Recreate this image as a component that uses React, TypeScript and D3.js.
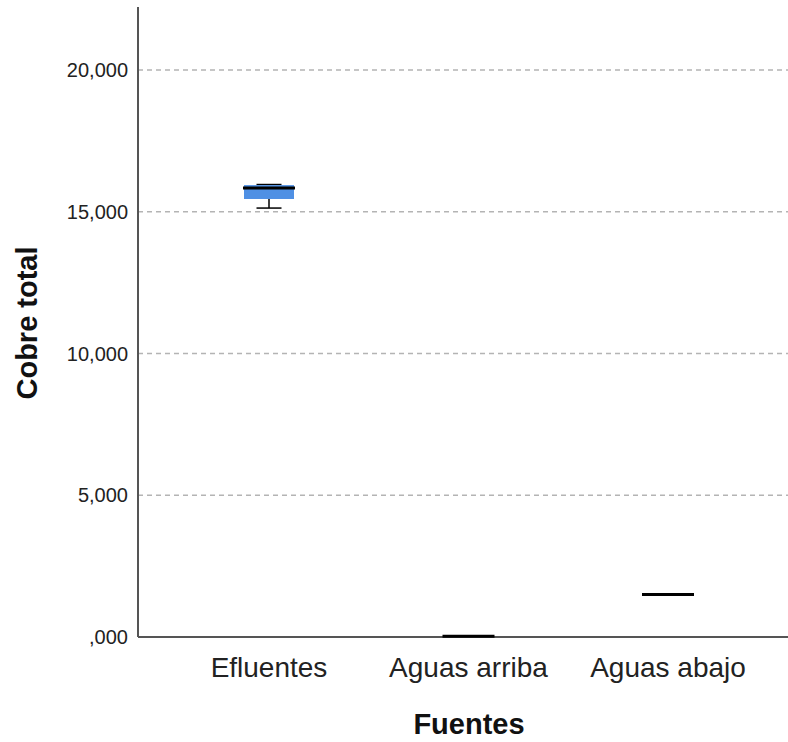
import React, { useEffect, useRef } from "react";
import * as d3 from "d3";

// categories and box summaries
const categories = ["Efluentes", "Aguas arriba", "Aguas abajo"];
const mins = [15130, 30, 1500];
const q1s = [15450, 30, 1500];
const medians = [15840, 30, 1500];
const q3s = [15940, 30, 1500];
const maxs = [15960, 30, 1500];
const yTicks = [0, 5000, 10000, 15000, 20000];
const yTickLabels = [",000", "5,000", "10,000", "15,000", "20,000"];

export default function App() {
  const svgRef = useRef<SVGSVGElement>(null);

  useEffect(() => {
    const width = 788;
    const height = 742;
    const left = 138;
    const top = 7;
    const bottom = 637;
    const right = 788;

    const svg = d3.select(svgRef.current).attr("width", width).attr("height", height);
    svg.selectAll("*").remove();

    const y = d3.scaleLinear().domain([0, 22222]).range([bottom, top]);
    const x = d3.scalePoint<string>().domain(categories).range([269, 668]);
    const boxW = 50;

    // dashed grid
    svg.append("g")
      .selectAll("line")
      .data(yTicks.filter(d => d > 0))
      .join("line")
      .attr("x1", left)
      .attr("x2", right)
      .attr("y1", d => y(d))
      .attr("y2", d => y(d))
      .attr("stroke", "#b4b4b4")
      .attr("stroke-width", 1.3)
      .attr("stroke-dasharray", "5,4");

    // tick labels
    svg.append("g")
      .selectAll("text")
      .data(yTicks)
      .join("text")
      .attr("x", left - 10)
      .attr("y", d => y(d))
      .attr("dy", "0.36em")
      .attr("text-anchor", "end")
      .attr("font-family", "Liberation Sans, Arial, sans-serif")
      .attr("font-size", 20)
      .attr("fill", "#222")
      .text((d, i) => yTickLabels[i]);

    // axes lines
    svg.append("line")
      .attr("x1", left).attr("x2", left)
      .attr("y1", top).attr("y2", bottom)
      .attr("stroke", "#555").attr("stroke-width", 2);
    svg.append("line")
      .attr("x1", left).attr("x2", right)
      .attr("y1", bottom).attr("y2", bottom)
      .attr("stroke", "#555").attr("stroke-width", 2);

    // boxes
    const data = categories.map((c, i) => ({
      c, min: mins[i], q1: q1s[i], med: medians[i], q3: q3s[i], max: maxs[i]
    }));
    const g = svg.append("g");
    data.forEach(d => {
      const cx = x(d.c)!;
      if (d.max > d.min) {
        g.append("line")
          .attr("x1", cx).attr("x2", cx)
          .attr("y1", y(d.max)).attr("y2", y(d.q3))
          .attr("stroke", "#000").attr("stroke-width", 1.5);
        g.append("line")
          .attr("x1", cx).attr("x2", cx)
          .attr("y1", y(d.q1)).attr("y2", y(d.min))
          .attr("stroke", "#000").attr("stroke-width", 1.5);
        [d.min, d.max].forEach(v => {
          g.append("line")
            .attr("x1", cx - boxW / 4).attr("x2", cx + boxW / 4)
            .attr("y1", y(v)).attr("y2", y(v))
            .attr("stroke", "#000").attr("stroke-width", 1.5);
        });
        g.append("rect")
          .attr("x", cx - boxW / 2)
          .attr("width", boxW)
          .attr("y", y(d.q3))
          .attr("height", y(d.q1) - y(d.q3))
          .attr("fill", "#4f90e4");
      }
      g.append("line")
        .attr("x1", cx - boxW / 2 - 1).attr("x2", cx + boxW / 2 + 1)
        .attr("y1", y(d.med)).attr("y2", y(d.med))
        .attr("stroke", "#000").attr("stroke-width", 3);
    });

    // category labels
    svg.append("g")
      .selectAll("text")
      .data(categories)
      .join("text")
      .attr("x", d => x(d)!)
      .attr("y", 677)
      .attr("text-anchor", "middle")
      .attr("font-family", "Liberation Sans, Arial, sans-serif")
      .attr("font-size", 28)
      .attr("fill", "#222")
      .text(d => d);

    svg.append("text")
      .attr("x", 469)
      .attr("y", 734)
      .attr("text-anchor", "middle")
      .attr("font-family", "Liberation Sans, Arial, sans-serif")
      .attr("font-weight", "bold")
      .attr("font-size", 29)
      .attr("fill", "#111")
      .text("Fuentes");

    svg.append("text")
      .attr("transform", "translate(37,323) rotate(-90)")
      .attr("text-anchor", "middle")
      .attr("font-family", "Liberation Sans, Arial, sans-serif")
      .attr("font-weight", "bold")
      .attr("font-size", 29)
      .attr("fill", "#111")
      .text("Cobre total");
  }, []);

  return <svg ref={svgRef} style={{ position: "absolute", left: 0, top: 0 }} />;
}
